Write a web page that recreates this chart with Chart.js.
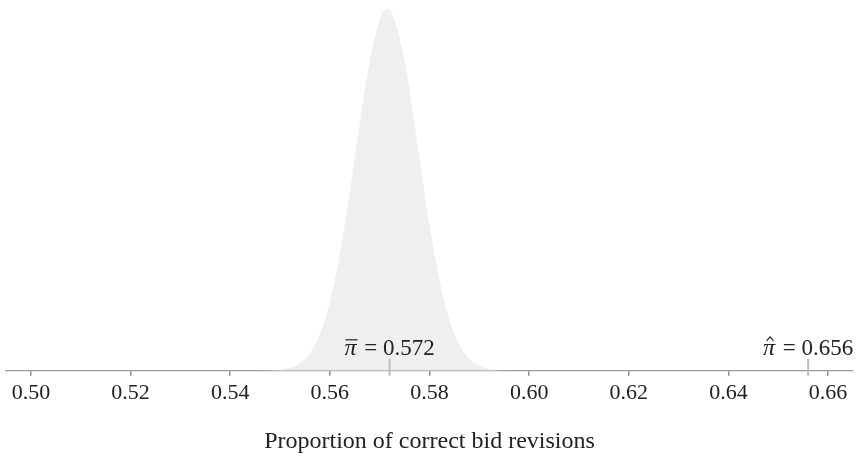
<!DOCTYPE html>
<html>
<head>
<meta charset="utf-8">
<script src="https://cdn.jsdelivr.net/npm/chart.js@4"></script>
<style>
  html, body { margin: 0; padding: 0; background: #fff; }
  #wrap { width: 861px; height: 456px; }
</style>
</head>
<body>
<div id="wrap"><canvas id="chart" width="861" height="456"></canvas></div>
<script>
// proportion values along the x axis, and the relative height of the density there
const proportions = [0.540, 0.5425, 0.545, 0.5475, 0.550, 0.5525, 0.555, 0.5575, 0.560, 0.5625,
    0.565, 0.5675, 0.570, 0.5715, 0.5725, 0.575, 0.5775, 0.580, 0.5825, 0.585,
    0.5875, 0.590, 0.5925, 0.595, 0.5975, 0.600];
const density = [0, 0, 0.0001, 0.0007, 0.003, 0.0106, 0.0324, 0.0847, 0.189, 0.360,
    0.587, 0.817, 0.972, 1.0, 0.987, 0.857, 0.635, 0.403, 0.218, 0.1007,
    0.0397, 0.0134, 0.0039, 0.001, 0.0002, 0];

const tickValues = [0.50, 0.52, 0.54, 0.56, 0.58, 0.60, 0.62, 0.64, 0.66];
const markerValues = [0.572, 0.656];
const markerAccents = ['bar', 'hat'];   // pi-bar = mean, pi-hat = observed
const xTitle = 'Proportion of correct bid revisions';

const serif = '"Liberation Serif", "DejaVu Serif", serif';

// little vertical marks with their labels above the axis
const markerPlugin = {
    id: 'markers',
    afterDraw(chart) {
        const ctx = chart.ctx;
        const x = chart.scales.x;
        const base = chart.chartArea.bottom;
        markerValues.forEach((v, i) => {
            const px = x.getPixelForValue(v);
            ctx.save();
            ctx.strokeStyle = '#bdbdbd';
            ctx.lineWidth = 2;
            ctx.beginPath();
            ctx.moveTo(px, base - 12);
            ctx.lineTo(px, base + 5);
            ctx.stroke();

            const y = base - 16;
            const rest = ' = ' + v.toFixed(3);
            ctx.font = 'italic 24px ' + serif;
            const piW = ctx.measureText('\u03C0').width;
            ctx.font = '23px ' + serif;
            const restW = ctx.measureText(rest).width + 2;
            const left = px - (piW + restW) / 2;
            ctx.fillStyle = '#222';
            ctx.textBaseline = 'alphabetic';
            ctx.textAlign = 'left';
            ctx.font = 'italic 24px ' + serif;
            ctx.fillText('\u03C0', left, y);
            ctx.font = '23px ' + serif;
            ctx.fillText(rest, left + piW + 2, y);

            ctx.strokeStyle = '#222';
            ctx.lineWidth = 1.2;
            ctx.beginPath();
            if (markerAccents[i] === 'bar') {
                ctx.moveTo(left + 1, y - 15);
                ctx.lineTo(left + piW + 1, y - 15);
            } else {
                const cx = left + piW / 2 + 1;
                ctx.moveTo(cx - 3.5, y - 14);
                ctx.lineTo(cx, y - 18);
                ctx.lineTo(cx + 3.5, y - 14);
            }
            ctx.stroke();
            ctx.restore();
        });
    }
};

new Chart(document.getElementById('chart'), {
    type: 'line',
    data: {
        datasets: [{
            data: proportions.map((p, i) => ({ x: p, y: density[i] })),
            fill: 'origin',
            backgroundColor: '#efefef',
            borderWidth: 0,
            pointRadius: 0,
            cubicInterpolationMode: 'monotone'
        }]
    },
    options: {
        responsive: false,
        animation: false,
        layout: { padding: { top: 9, left: 6, right: 8, bottom: 0 } },
        plugins: { legend: { display: false }, tooltip: { enabled: false } },
        scales: {
            x: {
                type: 'linear',
                min: 0.495,
                max: 0.665,
                afterBuildTicks: axis => { axis.ticks = tickValues.map(v => ({ value: v })); },
                border: { color: '#9a9a9a', width: 1.2 },
                grid: { drawOnChartArea: false, drawTicks: true, tickLength: 5, color: '#8a8a8a', lineWidth: 1.5 },
                ticks: {
                    color: '#222',
                    font: { family: serif, size: 22 },
                    padding: 4,
                    maxRotation: 0,
                    callback: v => v.toFixed(2)
                },
                title: {
                    display: true,
                    text: xTitle,
                    color: '#222',
                    font: { family: serif, size: 24 },
                    padding: { top: 17, bottom: 0 }
                }
            },
            y: {
                display: false,
                min: 0,
                max: 1
            }
        }
    },
    plugins: [markerPlugin]
});
</script>
</body>
</html>
